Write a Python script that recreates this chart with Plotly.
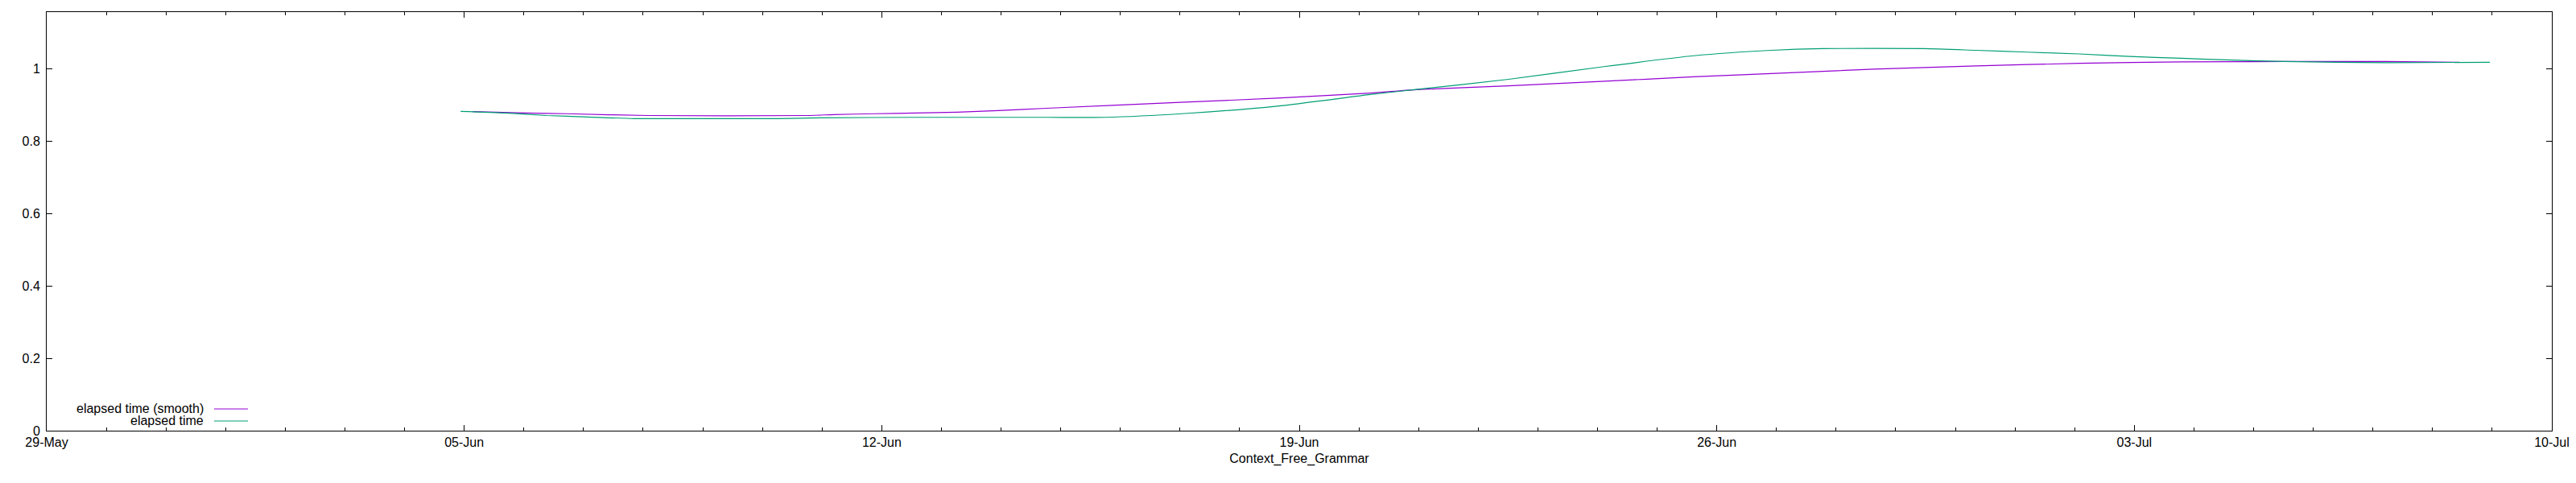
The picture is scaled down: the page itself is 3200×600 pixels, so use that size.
import plotly.graph_objects as go

# ---- data ----
green_x = ["2021-06-04 22:34", "2021-06-05 16:34", "2021-06-06 09:07", "2021-06-07 01:41",
           "2021-06-07 20:24", "2021-06-09 01:12", "2021-06-10 06:00", "2021-06-11 00:00",
           "2021-06-12 12:00", "2021-06-14 18:14", "2021-06-15 18:00", "2021-06-17 01:55",
           "2021-06-18 15:07", "2021-06-20 04:34", "2021-06-20 23:02", "2021-06-22 12:14",
           "2021-06-24 01:26", "2021-06-25 14:38", "2021-06-26 21:50", "2021-06-27 18:29",
           "2021-06-29 11:31", "2021-06-30 08:24", "2021-07-01 05:02", "2021-07-02 01:55",
           "2021-07-02 22:19", "2021-07-03 18:58", "2021-07-04 15:36", "2021-07-05 12:29",
           "2021-07-07 05:31", "2021-07-08 23:02"]
green_y = [0.8815, 0.877, 0.870, 0.866, 0.8615, 0.8615, 0.8615, 0.8637, 0.865, 0.865,
           0.865, 0.8756, 0.896, 0.928, 0.942, 0.970, 1.004, 1.035, 1.050, 1.0548,
           1.0548, 1.050, 1.045, 1.040, 1.033, 1.028, 1.023, 1.019, 1.016, 1.017]

purple_x = ["2021-06-05 03:22", "2021-06-06 00:43", "2021-06-06 17:17", "2021-06-08 02:10",
            "2021-06-10 18:00", "2021-06-11 04:48", "2021-06-11 21:22", "2021-06-12 13:41",
            "2021-06-13 06:14", "2021-06-13 22:48", "2021-06-14 18:14", "2021-06-17 01:55",
            "2021-06-18 15:07", "2021-06-20 04:34", "2021-06-20 23:02", "2021-06-22 12:14",
            "2021-06-24 01:26", "2021-06-25 14:38", "2021-06-26 21:50", "2021-06-28 15:07",
            "2021-06-30 08:24", "2021-07-02 01:55", "2021-07-03 18:58", "2021-07-05 12:29",
            "2021-07-07 05:31", "2021-07-08 10:48"]
purple_y = [0.881, 0.877, 0.875, 0.870, 0.870, 0.8727, 0.875, 0.877, 0.879, 0.8837,
            0.890, 0.907, 0.918, 0.932, 0.9415, 0.952, 0.964, 0.977, 0.986, 0.998,
            1.007, 1.014, 1.018, 1.019, 1.019, 1.017]

series_names = ["elapsed time (smooth)", "elapsed time"]
series_colors = ["#9400D3", "#009E73"]
x_title = "Context_Free_Grammar"
y_tickvals = [0, 0.2, 0.4, 0.6, 0.8, 1]

FONT = "Liberation Sans, Arial, sans-serif"
FS = 16
OFF = 8  # default body margin of the html page
W, H = 3200 - OFF, 600 - OFF
# target plot area in page pixels: x 58..3170, y 15..535
ML, MR, MT, MB = 58 - OFF, 3200 - 3170 - OFF + OFF, 15 - OFF, 600 - 535
MR = (OFF + W) - 3170
MB = (OFF + H) - 535

fig = go.Figure()
fig.add_trace(go.Scatter(x=purple_x, y=purple_y, mode="lines", name=series_names[0],
                         line=dict(color=series_colors[0], width=1.2, shape="spline", smoothing=0.6),
                         showlegend=False))
fig.add_trace(go.Scatter(x=green_x, y=green_y, mode="lines", name=series_names[1],
                         line=dict(color=series_colors[1], width=1.2, shape="spline", smoothing=0.6),
                         showlegend=False))

# manual gnuplot-style legend (text right aligned, sample to the right); page pixel coords
pw = W - ML - MR
ph = H - MT - MB
def px_to_paper_x(px):
    return (px - OFF - ML) / pw
def px_to_paper_y(py):
    return (OFF + H - MB - py) / ph

legend_rows = [(series_names[0], series_colors[0], 507), (series_names[1], series_colors[1], 522)]
for name, color, ypix in legend_rows:
    fig.add_annotation(x=px_to_paper_x(255), y=px_to_paper_y(ypix), xref="paper", yref="paper",
                       text=name, showarrow=False, xanchor="right", yanchor="middle",
                       font=dict(family=FONT, size=FS, color="black"))
    fig.add_shape(type="line", xref="paper", yref="paper",
                  x0=px_to_paper_x(266), x1=px_to_paper_x(308),
                  y0=px_to_paper_y(ypix + 1), y1=px_to_paper_y(ypix + 1),
                  line=dict(color=color, width=1.2))

fig.update_layout(
    width=W, height=H,
    margin=dict(l=ML, r=MR, t=MT, b=MB, autoexpand=False),
    paper_bgcolor="white", plot_bgcolor="white",
    font=dict(family=FONT, size=FS, color="black"),
    showlegend=False,
)
fig.update_xaxes(
    type="date", range=["2021-05-29", "2021-07-10"], automargin=False,
    tick0="2021-05-29", dtick=7 * 86400000, tickformat="%d-%b",
    ticks="inside", ticklen=7, tickcolor="black", tickwidth=1,
    minor=dict(ticks="inside", ticklen=4, dtick=86400000, tick0="2021-05-29", tickcolor="black"),
    showline=True, linecolor="black", linewidth=1, mirror="ticks",
    showgrid=False, zeroline=False,
    title=dict(text=x_title, font=dict(family=FONT, size=FS), standoff=6),
    tickfont=dict(family=FONT, size=FS),
)
fig.update_yaxes(
    range=[0, 1.1556], tickvals=y_tickvals, automargin=False,
    ticks="inside", ticklen=7, tickcolor="black", tickwidth=1,
    showline=True, linecolor="black", linewidth=1, mirror="ticks",
    showgrid=False, zeroline=False,
    tickfont=dict(family=FONT, size=FS),
    ticklabelstandoff=4,
)

fig.write_html("out.html")
